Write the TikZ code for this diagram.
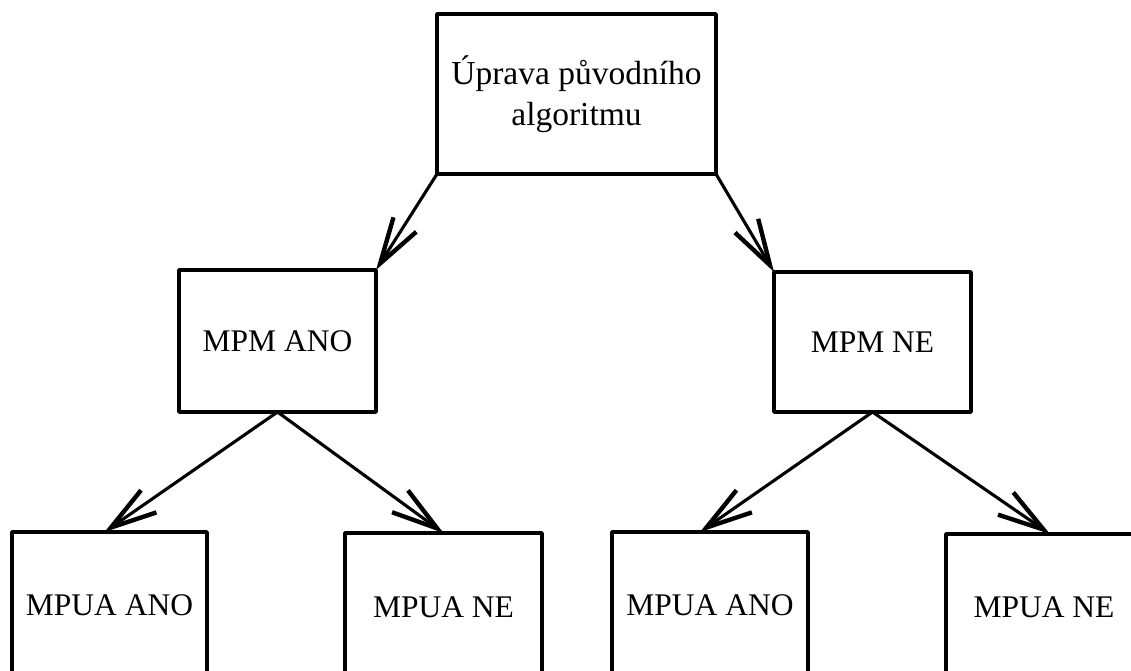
\documentclass[tikz,border=0pt]{standalone}
\usepackage{fontspec}
\setmainfont{Liberation Serif}
\usetikzlibrary{arrows.meta}
\begin{document}
\begin{tikzpicture}[x=1pt,y=-1pt,
  box/.style={draw, line width=3.6pt, line join=round, inner sep=0pt, outer sep=0pt,
    font=\fontsize{31.5}{41}\selectfont, align=center},
  link/.style={line width=3.1pt, line cap=round,
    -{Straight Barb[length=46pt, width=27pt, line width=4.4pt]}}]
  \useasboundingbox (0,0) rectangle (1131,671);
  \clip (0,0) rectangle (1131,671);

  % root and second level
  \node[box, minimum width=279pt, minimum height=160pt,
    font=\fontsize{33.5}{41.5}\selectfont] (root) at (576.5,94)
    {Úprava původního\\algoritmu};
  \node[box, minimum width=197pt, minimum height=142pt] (ano) at (277.5,341) {MPM ANO};
  \node[box, minimum width=197pt, minimum height=140pt] (ne) at (872.5,342) {MPM NE};

  % leaves (their lower parts run past the bottom edge)
  \node[box, minimum width=195pt, minimum height=146pt] (a1) at (109.5,605) {MPUA ANO};
  \node[box, minimum width=197pt, minimum height=148pt] (a2) at (443.5,607) {MPUA NE};
  \node[box, minimum width=196pt, minimum height=147pt] (n1) at (710,605.5) {MPUA ANO};
  \node[box, minimum width=196pt, minimum height=147pt] (n2) at (1044,607.5) {MPUA NE};

  % connectors
  \draw[link] (root.south west) -- (ano.north east);
  \draw[link] (root.south east) -- (ne.north west);
  \draw[link] (ano.south) -- ([xshift=-5pt]a1.north);
  \draw[link] (ano.south) -- (a2.north);
  \draw[link] (ne.south) -- ([xshift=-10pt]n1.north);
  \draw[link] (ne.south) -- ([xshift=6pt]n2.north);
\end{tikzpicture}
\end{document}
